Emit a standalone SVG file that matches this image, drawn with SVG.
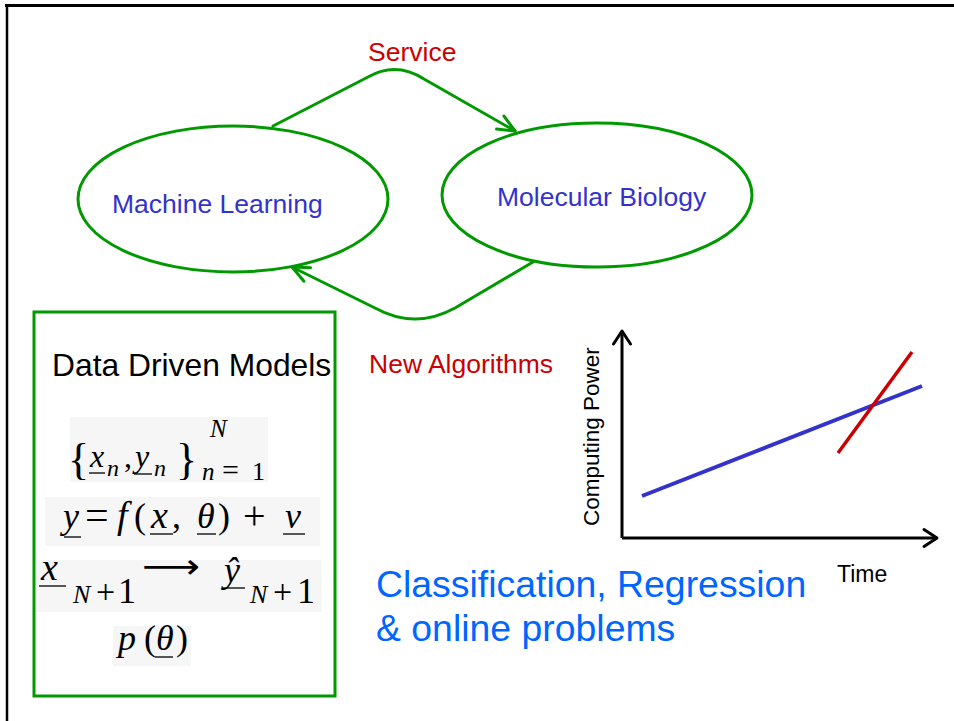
<svg xmlns="http://www.w3.org/2000/svg" width="954" height="721" viewBox="0 0 954 721">
<style>
.node{fill:none;stroke:#009900;stroke-width:3}
.lbl{font-family:"Liberation Sans",Arial,sans-serif;font-size:26.5px}
.blue{fill:#3333cc}
.red{fill:#cc0000}
.conn{fill:none;stroke:#009900;stroke-width:3;stroke-linejoin:round;stroke-linecap:round}
.m{font-family:"Liberation Serif","Times New Roman",serif;fill:#000}
.mi{font-family:"Liberation Serif","Times New Roman",serif;font-style:italic;fill:#000}
.ul{stroke:#000;stroke-width:1.3}
.mbg{fill:#f6f6f6}
.axis{fill:none;stroke:#000;stroke-width:3}
</style>
<defs>
<marker id="ga" markerUnits="userSpaceOnUse" markerWidth="30" markerHeight="30" refX="0" refY="0" viewBox="-20 -15 30 30" orient="auto" overflow="visible">
<path d="M-17,-7.5 L0,0 L-17,7.5" fill="none" stroke="#009900" stroke-width="3" stroke-linecap="round" stroke-linejoin="round"/>
</marker>
<marker id="ka" markerUnits="userSpaceOnUse" markerWidth="30" markerHeight="30" refX="0" refY="0" viewBox="-20 -15 30 30" orient="auto" overflow="visible">
<path d="M-13,-8.5 L0,0 L-13,8.5" fill="none" stroke="#000" stroke-width="3" stroke-linecap="round" stroke-linejoin="round"/>
</marker>
</defs>
<rect width="954" height="721" fill="#fff"/>
<g id="frame">
<line x1="5" y1="5.5" x2="954" y2="5.5" stroke="#000" stroke-width="3"/>
<line x1="7" y1="4" x2="7" y2="721" stroke="#000" stroke-width="2.5"/>
</g>
<g id="connectors">
<path class="conn" d="M273,126 L368,77 Q396,61 424,79 L515,131" marker-end="url(#ga)"/>
<path class="conn" d="M533,262 L455,308 Q415,330 375,308 L292,267" marker-end="url(#ga)"/>
<text class="lbl red" x="368" y="61" font-size="27">Service</text>
<text class="lbl red" x="369" y="373">New Algorithms</text>
</g>
<g id="machine-learning">
<ellipse class="node" cx="233" cy="199" rx="155" ry="73"/>
<text class="lbl blue" x="112" y="213">Machine Learning</text>
</g>
<g id="molecular-biology">
<ellipse class="node" cx="597" cy="195" rx="155" ry="72"/>
<text class="lbl blue" x="497" y="206">Molecular Biology</text>
</g>
<g id="data-driven-models">
<rect x="34" y="312" width="301" height="384" fill="none" stroke="#009900" stroke-width="3"/>
<text x="52" y="376" font-family="Liberation Sans,Arial,sans-serif" font-size="31.8" fill="#000">Data Driven Models</text>
<rect class="mbg" x="70" y="417" width="198" height="65"/>
<rect class="mbg" x="45" y="497" width="275" height="49"/>
<rect class="mbg" x="36" y="560" width="286" height="52"/>
<rect class="mbg" x="113" y="626" width="78" height="40"/>
<!-- line 1 -->
<text class="m" x="68" y="474" font-size="44">{</text>
<text class="mi" x="90" y="467" font-size="32">x</text>
<line class="ul" x1="89" y1="473" x2="105" y2="473"/>
<text class="mi" x="107" y="476" font-size="24">n</text>
<text class="m" x="124" y="467" font-size="32">,</text>
<text class="mi" x="135" y="467" font-size="32">y</text>
<line class="ul" x1="134" y1="474" x2="152" y2="474"/>
<text class="mi" x="154" y="476" font-size="24">n</text>
<text class="m" x="176" y="474" font-size="44">}</text>
<text class="mi" x="210" y="437" font-size="25">N</text>
<text class="mi" x="202" y="480" font-size="25">n</text>
<text class="m" x="222" y="480" font-size="30">=</text>
<text class="m" x="252" y="480" font-size="26">1</text>
<!-- line 2 -->
<text class="mi" x="63" y="528" font-size="36">y</text>
<line class="ul" x1="64" y1="537" x2="81" y2="537"/>
<text class="m" x="85" y="529" font-size="42">=</text>
<text class="mi" x="117" y="528" font-size="38">f</text>
<text class="m" x="134" y="528" font-size="36">(</text>
<text class="mi" x="151" y="528" font-size="38">x</text>
<line class="ul" x1="150" y1="534" x2="173" y2="534"/>
<text class="m" x="172" y="528" font-size="36">,</text>
<text class="mi" x="197" y="528" font-size="36">θ</text>
<line class="ul" x1="197" y1="534" x2="216" y2="534"/>
<text class="m" x="218" y="528" font-size="36">)</text>
<text class="m" x="243" y="529" font-size="40">+</text>
<text class="mi" x="285" y="528" font-size="36">v</text>
<line class="ul" x1="283" y1="534" x2="305" y2="534"/>
<!-- line 3 -->
<text class="mi" x="41" y="580" font-size="38">x</text>
<line class="ul" x1="39" y1="586" x2="66" y2="586"/>
<text class="mi" x="73" y="603" font-size="26">N</text>
<text class="m" x="96" y="603" font-size="34">+</text>
<text class="m" x="118" y="603" font-size="36">1</text>
<text x="142" y="578" font-family="DejaVu Sans,sans-serif" font-size="34" textLength="58" lengthAdjust="spacingAndGlyphs" fill="#000">⟶</text>
<text class="mi" x="224" y="582" font-size="36">ŷ</text>
<line class="ul" x1="223" y1="588" x2="245" y2="588"/>
<text class="mi" x="250" y="603" font-size="26">N</text>
<text class="m" x="273" y="603" font-size="34">+</text>
<text class="m" x="297" y="603" font-size="36">1</text>
<!-- line 4 -->
<text class="mi" x="118" y="650" font-size="36">p</text>
<text class="m" x="144" y="650" font-size="36">(</text>
<text class="mi" x="156" y="650" font-size="36">θ</text>
<line class="ul" x1="155" y1="657" x2="173" y2="657"/>
<text class="m" x="176" y="650" font-size="36">)</text>
</g>
<g id="chart">
<path class="axis" d="M622,538 L622,331" marker-end="url(#ka)"/>
<path class="axis" d="M622,538 L937,538" marker-end="url(#ka)"/>
<line x1="642" y1="496" x2="922" y2="386" stroke="#3333cc" stroke-width="4"/>
<line x1="838" y1="453" x2="912" y2="352" stroke="#cc0000" stroke-width="3.5"/>
<text transform="translate(599,526) rotate(-90)" font-family="Liberation Sans,Arial,sans-serif" font-size="22.5" fill="#000">Computing Power</text>
<text x="837" y="582" font-family="Liberation Sans,Arial,sans-serif" font-size="23" fill="#000">Time</text>
</g>
<g id="problems">
<text x="376" y="597" font-family="Liberation Sans,Arial,sans-serif" font-size="37.4" fill="#0066ff">Classification, Regression</text>
<text x="376" y="641" font-family="Liberation Sans,Arial,sans-serif" font-size="37.4" fill="#0066ff">&amp; online problems</text>
</g>
</svg>
